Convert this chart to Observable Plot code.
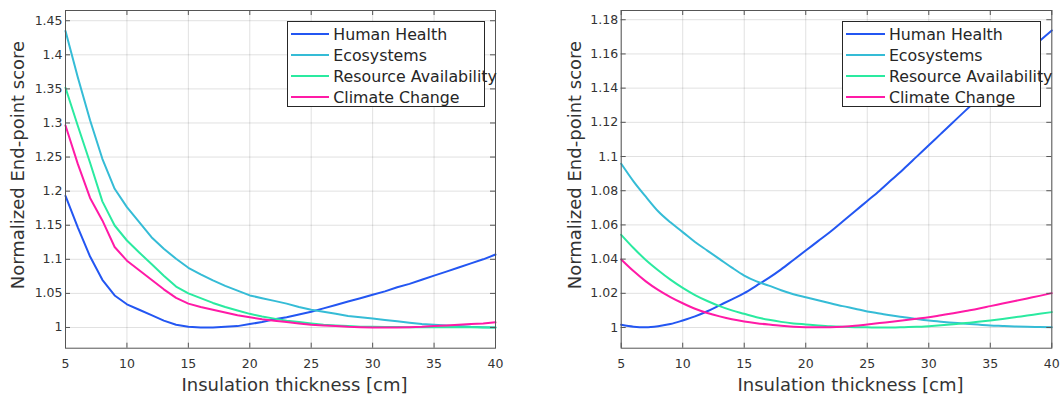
<!DOCTYPE html>
<html><head><meta charset="utf-8">
<script src="https://cdn.jsdelivr.net/npm/d3@7"></script>
<script src="https://cdn.jsdelivr.net/npm/@observablehq/plot@0.6"></script>
<style>
body{margin:0;background:#fff;font-family:"DejaVu Sans",sans-serif;}
#fig{position:relative;width:1064px;height:398px;overflow:hidden;background:#fff}
.panel{position:absolute;top:0}
.legend{position:absolute;top:20.7px;width:198.3px;height:86.3px;border:1px solid #262626;background:#fff;box-sizing:border-box}
.legend .row{position:absolute;left:0;height:21px;display:flex;align-items:center;white-space:nowrap;font-size:15.8px;color:#262626;font-family:"DejaVu Sans",sans-serif}
.legend .sw{width:38.6px;height:2px;margin-left:3px;margin-right:4px;flex:none}
</style></head><body><div id="fig"></div><script>
const thickness = [5,6,7,8,9,10,11,12,13,14,15,16,17,18,19,20,21,22,23,24,25,26,27,28,29,30,31,32,33,34,35,36,37,38,39,40];
const seriesNames = ["Human Health","Ecosystems","Resource Availability","Climate Change"];
const seriesColors = ["#2356f2","#35bcd6","#2aeaa0","#ff1aa6"];
const xTickValues = [5,10,15,20,25,30,35,40];
const leftYTicks = [1,1.05,1.1,1.15,1.2,1.25,1.3,1.35,1.4,1.45];
const rightYTicks = [1,1.02,1.04,1.06,1.08,1.1,1.12,1.14,1.16,1.18];

// Left panel
const leftHumanHealth = [1.193,1.147,1.104,1.070,1.047,1.034,1.026,1.018,1.010,1.004,1.001,1.000,1.000,1.001,1.002,1.005,1.008,1.012,1.015,1.019,1.023,1.028,1.033,1.038,1.043,1.048,1.053,1.059,1.064,1.070,1.076,1.082,1.088,1.094,1.100,1.107];
const leftEcosystems = [1.435,1.367,1.304,1.2475,1.2035,1.1765,1.1545,1.1325,1.1155,1.1008,1.0876,1.078,1.069,1.061,1.054,1.047,1.043,1.039,1.035,1.030,1.026,1.023,1.020,1.017,1.015,1.013,1.011,1.009,1.007,1.005,1.004,1.003,1.002,1.001,1.0005,1.000];
const leftResource = [1.3516,1.296,1.2416,1.185,1.1496,1.1276,1.110,1.093,1.076,1.060,1.050,1.043,1.036,1.030,1.025,1.020,1.016,1.013,1.010,1.008,1.006,1.004,1.003,1.002,1.001,1.001,1.0008,1.0006,1.0005,1.0004,1.0003,1.0003,1.0002,1.0002,1.0001,1.0001];
const leftClimate = [1.2964,1.240,1.190,1.157,1.118,1.098,1.084,1.070,1.056,1.0435,1.035,1.030,1.026,1.022,1.018,1.015,1.012,1.010,1.008,1.006,1.004,1.003,1.002,1.001,1.0005,1.000,1.000,1.000,1.0005,1.001,1.002,1.003,1.004,1.005,1.006,1.0075];

// Right panel
const rightHumanHealth = [1.0016,1.0005,1.0002,1.0008,1.002,1.0041,1.0065,1.0095,1.0130,1.0165,1.0201,1.0245,1.029,1.034,1.0395,1.045,1.0505,1.056,1.062,1.068,1.074,1.080,1.0865,1.093,1.0998,1.1066,1.1134,1.1202,1.127,1.1338,1.1406,1.1474,1.1542,1.161,1.1675,1.1737];
const rightEcosystems = [1.0958,1.0855,1.0765,1.068,1.0615,1.0558,1.050,1.045,1.040,1.035,1.0304,1.027,1.0245,1.0218,1.0195,1.0177,1.016,1.0142,1.0125,1.011,1.0094,1.0082,1.007,1.006,1.005,1.0041,1.0034,1.0028,1.0022,1.0017,1.0012,1.0009,1.0006,1.0004,1.0003,1.0002];
const rightResource = [1.0542,1.0465,1.0395,1.0335,1.028,1.0232,1.019,1.0155,1.0125,1.010,1.008,1.006,1.0045,1.0033,1.0024,1.0018,1.0012,1.0007,1.0004,1.0002,1.0001,1.0000,1.0000,1.0002,1.0004,1.0008,1.0013,1.0019,1.0026,1.0033,1.0041,1.005,1.006,1.007,1.008,1.009];
const rightClimate = [1.0398,1.033,1.027,1.022,1.0178,1.0142,1.011,1.0085,1.0065,1.0048,1.0035,1.0025,1.0017,1.001,1.0005,1.0002,1.0001,1.0002,1.0005,1.001,1.0018,1.0026,1.0034,1.0042,1.0051,1.006,1.0072,1.0084,1.0097,1.011,1.0125,1.014,1.0155,1.017,1.0185,1.0201];

function toRows(seriesArrays) {
  const rows = [];
  seriesArrays.forEach((arr, si) => arr.forEach((v, i) => rows.push({x: thickness[i], y: v, series: seriesNames[si]})));
  return rows;
}
const fmt = d => String(+d.toFixed(2));
const AX = "#555";

function panel({data, yDomain, yTicks, marginLeft, marginRight, yLabelDx, curve}) {
  const W = 532, H = 398, mt = 10, mb = 50.3;
  const ph = H - mt - mb, pw = W - marginLeft - marginRight;
  return Plot.plot({
    width: W, height: H, marginTop: mt, marginBottom: mb, marginLeft, marginRight,
    style: {fontFamily: "DejaVu Sans", fontSize: "12.5px", color: "#333", background: "transparent"},
    x: {domain: [5, 40]},
    y: {domain: yDomain},
    color: {domain: seriesNames, range: seriesColors},
    marks: [
      Plot.gridX(xTickValues, {stroke: "#000", strokeOpacity: 0.12}),
      Plot.gridY(yTicks, {stroke: "#000", strokeOpacity: 0.12}),
      Plot.line(data, {x: "x", y: "y", stroke: "series", z: "series", strokeWidth: 2, curve}),
      Plot.frame({stroke: AX}),
      Plot.tickX(xTickValues, {x: d => d, insetTop: ph - 5, stroke: AX}),
      Plot.tickX(xTickValues, {x: d => d, insetBottom: ph - 5, stroke: AX}),
      Plot.tickY(yTicks, {y: d => d, insetRight: pw - 5, stroke: AX}),
      Plot.tickY(yTicks, {y: d => d, insetLeft: pw - 5, stroke: AX}),
      Plot.axisX(xTickValues, {tickSize: 0, tickPadding: 11, label: null, fontSize: 12.5}),
      Plot.axisY(yTicks, {tickSize: 0, tickPadding: 3, label: null, tickFormat: fmt, fontSize: 12.5}),
      Plot.text(["Insulation thickness [cm]"], {frameAnchor: "bottom", dy: 43, dx: 14, lineAnchor: "bottom", textAnchor: "middle", fontSize: 18, fill: "#333"}),
      Plot.text(["Normalized End-point score"], {frameAnchor: "left", rotate: -90, textAnchor: "middle", lineAnchor: "middle", dx: yLabelDx, dy: -14.3, fontSize: 18, fill: "#333"})
    ]
  });
}

const fig = document.getElementById("fig");
function addPanel(svg, left) {
  const d = document.createElement("div");
  d.className = "panel"; d.style.left = left + "px";
  d.appendChild(svg); fig.appendChild(d);
}
function addLegend(left) {
  const lg = document.createElement("div");
  lg.className = "legend"; lg.style.left = left + "px";
  seriesNames.forEach((name, i) => {
    const r = document.createElement("div");
    r.className = "row"; r.style.top = (2.1 + 21 * i) + "px";
    const sw = document.createElement("span"); sw.className = "sw"; sw.style.background = seriesColors[i];
    const t = document.createElement("span"); t.textContent = name;
    r.appendChild(sw); r.appendChild(t); lg.appendChild(r);
  });
  fig.appendChild(lg);
}

addPanel(panel({
  data: toRows([leftHumanHealth, leftEcosystems, leftResource, leftClimate]),
  yDomain: [0.9696, 1.465], yTicks: leftYTicks, marginLeft: 65, marginRight: 37, yLabelDx: -47, curve: "linear"
}), 0);
addPanel(panel({
  data: toRows([rightHumanHealth, rightEcosystems, rightResource, rightClimate]),
  yDomain: [0.9879, 1.1854], yTicks: rightYTicks, marginLeft: 88.7, marginRight: 12.7, yLabelDx: -46.2, curve: "monotone-x"
}), 532);
addLegend(286.7);
addLegend(842.3);
</script></body></html>
